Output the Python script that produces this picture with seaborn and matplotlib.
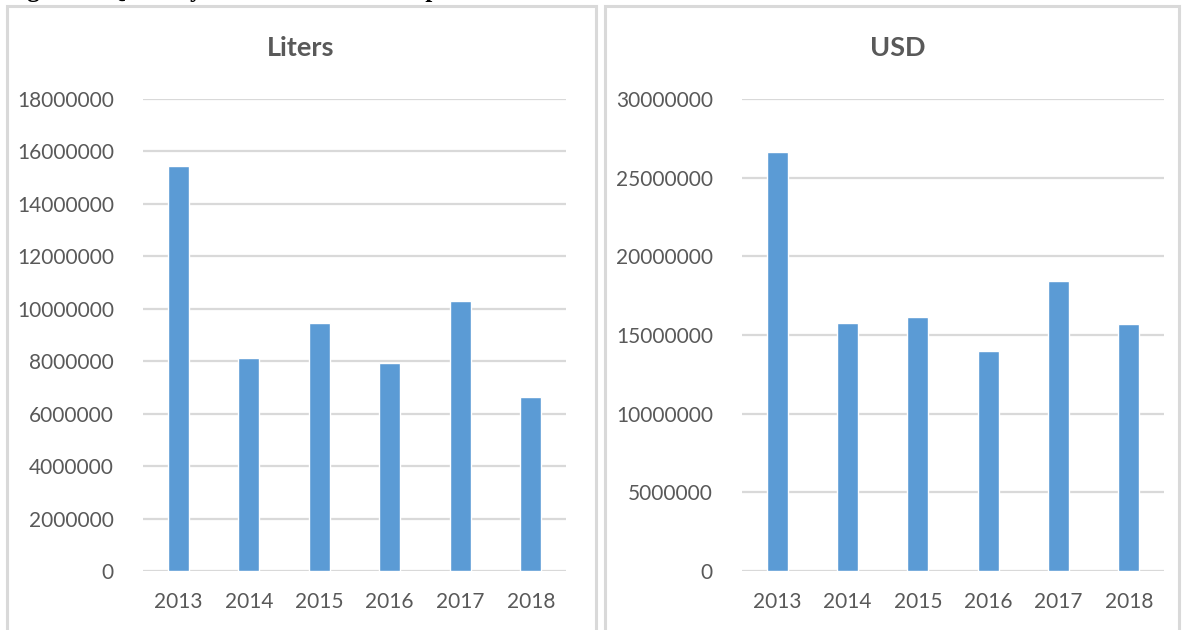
import matplotlib
matplotlib.use("Agg")
import matplotlib.pyplot as plt
from matplotlib.patches import Rectangle
import seaborn as sns
import pandas as pd

years = ["2013", "2014", "2015", "2016", "2017", "2018"]
liters = [15450000, 8130000, 9450000, 7940000, 10290000, 6620000]
usd = [26640000, 15760000, 16150000, 13960000, 18430000, 15670000]
liters_ticks = [0, 2000000, 4000000, 6000000, 8000000, 10000000, 12000000, 14000000, 16000000, 18000000]
usd_ticks = [0, 5000000, 10000000, 15000000, 20000000, 25000000, 30000000]
caption = "Figure 4. Quantity and value of wine exports"

sns.set_theme(style="white")
plt.rcParams['font.family'] = ['Lato', 'DejaVu Sans']

BAR = "#5b9bd5"
GRID = "#d9d9d9"
TXT = "#595959"

fig = plt.figure(figsize=(11.84, 6.3), dpi=100)
W, H = 1184, 630

def px_rect(x0, y0, x1, y1):
    return [x0 / W, 1 - y1 / H, (x1 - x0) / W, (y1 - y0) / H]

# panel borders
for (x0, x1) in [(7, 596), (605, 1179)]:
    fig.patches.append(Rectangle((x0 / W, -0.05), (x1 - x0) / W, 1 - 6 / H + 0.05,
                                 transform=fig.transFigure, fill=False,
                                 edgecolor=GRID, linewidth=2.2, zorder=0))

# caption, cut off at the top edge as in the reference
fig.text(5 / W, 1 + 3.5 / H, caption, family="Liberation Serif", weight="bold",
         fontsize=18, va="baseline", ha="left", color="black")

panels = [
    ("Liters", liters, liters_ticks, px_rect(143, 99, 566, 571), 301),
    ("USD", usd, usd_ticks, px_rect(742, 99, 1164, 571), 898),
]

for title, vals, ticks, rect, tx in panels:
    ax = fig.add_axes(rect)
    df = pd.DataFrame({"year": years, "value": vals})
    sns.barplot(data=df, x="year", y="value", color=BAR, saturation=1,
                width=0.3, ax=ax, zorder=3)
    ax.set_ylim(0, ticks[-1])
    ax.set_yticks(ticks)
    ax.set_yticklabels([str(t) for t in ticks])
    ax.set_xlim(-0.5, len(years) - 0.5)
    ax.set_xlabel("")
    ax.set_ylabel("")
    for s in ax.spines.values():
        s.set_visible(False)
    ax.yaxis.grid(True, color=GRID, linewidth=1.6, zorder=0)
    ax.set_axisbelow(True)
    ax.tick_params(axis="both", length=0, labelsize=15, colors=TXT)
    ax.tick_params(axis="y", pad=21)
    ax.tick_params(axis="x", pad=15)
    fig.text(tx / W, 1 - 48 / H, title, ha="center", va="center",
             fontsize=19.5, weight="bold", color=TXT)

fig.savefig("out.png", dpi=100)
